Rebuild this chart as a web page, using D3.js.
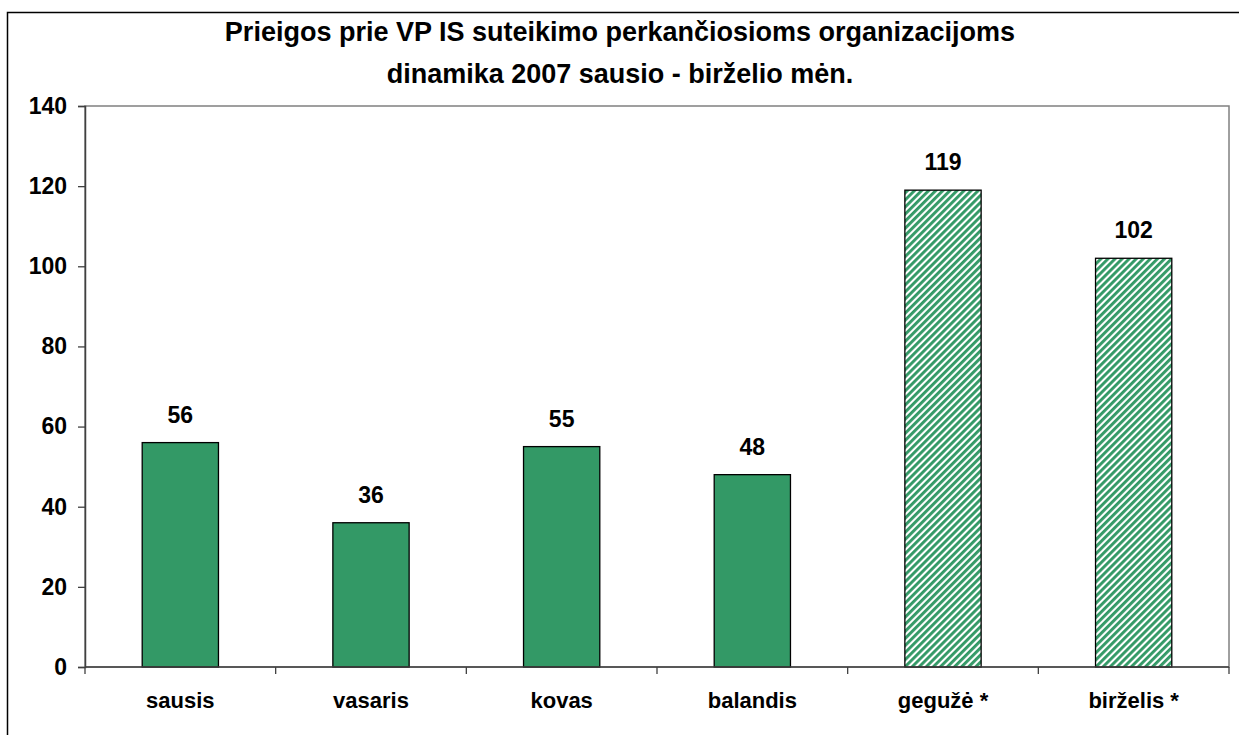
<!DOCTYPE html>
<html>
<head>
<meta charset="utf-8">
<script src="https://cdn.jsdelivr.net/npm/d3@7"></script>
<style>
  html, body { margin: 0; padding: 0; background: #fff; }
  svg { display: block; font-family: "Liberation Sans", Arial, sans-serif; }
</style>
</head>
<body>
<div id="chart"></div>
<script>
var months = ['sausis', 'vasaris', 'kovas', 'balandis', 'gegužė *', 'birželis *'];
var values = [56, 36, 55, 48, 119, 102];
var hatched = [false, false, false, false, true, true];
var yTicks = [0, 20, 40, 60, 80, 100, 120, 140];
var titleLines = ['Prieigos prie VP IS suteikimo perkančiosioms organizacijoms', 'dinamika 2007 sausio - birželio mėn.'];

(function () {
  var W = 1239, H = 735;
  var plot = { left: 85, right: 1229, top: 106, bottom: 667 };
  var green = '#339966';

  var svg = d3.select('#chart').append('svg').attr('width', W).attr('height', H);

  var defs = svg.append('defs');
  var pat = defs.append('pattern')
    .attr('id', 'hatch')
    .attr('patternUnits', 'userSpaceOnUse')
    .attr('width', 5).attr('height', 5)
    .attr('patternTransform', 'rotate(45)');
  pat.append('rect').attr('width', 5).attr('height', 5).attr('fill', '#fff');
  pat.append('rect').attr('width', 2.9).attr('height', 5).attr('fill', green);

  // outer chart frame
  svg.append('rect')
    .attr('x', 7.5).attr('y', 12.5)
    .attr('width', W + 20).attr('height', H + 20)
    .attr('fill', '#fff').attr('stroke', '#000').attr('stroke-width', 1.5);

  svg.append('text')
    .attr('text-anchor', 'middle')
    .attr('font-weight', 'bold').style('font-size', '27px')
    .selectAll('tspan').data(titleLines).enter().append('tspan')
    .attr('x', 620)
    .attr('y', function (d, i) { return 41 + i * 42; })
    .text(function (d) { return d; });

  var x = d3.scaleBand().domain(months).range([plot.left, plot.right]).paddingInner(0.6).paddingOuter(0.3);
  var xb = d3.scaleBand().domain(months).range([plot.left, plot.right]);
  var y = d3.scaleLinear().domain([0, 140]).range([plot.bottom, plot.top]);

  // plot area border
  svg.append('rect')
    .attr('x', plot.left).attr('y', plot.top)
    .attr('width', plot.right - plot.left).attr('height', plot.bottom - plot.top)
    .attr('fill', 'none').attr('stroke', '#808080').attr('stroke-width', 1.5);

  svg.selectAll('.bar').data(values).enter().append('rect')
    .attr('class', 'bar')
    .attr('x', function (d, i) { return x(months[i]); })
    .attr('y', function (d) { return y(d); })
    .attr('width', x.bandwidth())
    .attr('height', function (d) { return y(0) - y(d); })
    .attr('fill', function (d, i) { return hatched[i] ? 'url(#hatch)' : green; })
    .attr('stroke', '#000').attr('stroke-width', 1.3);

  svg.selectAll('.lbl').data(values).enter().append('text')
    .attr('class', 'lbl')
    .attr('x', function (d, i) { return x(months[i]) + x.bandwidth() / 2; })
    .attr('y', function (d) { return y(d) - 20; })
    .attr('text-anchor', 'middle')
    .attr('font-weight', 'bold').style('font-size', '23px')
    .text(function (d) { return d; });

  var yAxis = svg.append('g')
    .attr('transform', 'translate(' + plot.left + ',0)')
    .call(d3.axisLeft(y).tickValues(yTicks).tickSize(7).tickPadding(11));
  yAxis.select('.domain').attr('stroke', '#404040').attr('stroke-width', 1.5);
  yAxis.selectAll('.tick line').attr('stroke', '#404040').attr('stroke-width', 1.3);
  yAxis.selectAll('text')
    .attr('fill', '#000').attr('font-weight', 'bold')
    .style('font-size', '23px').style('font-family', '"Liberation Sans", Arial, sans-serif');

  var xAxis = svg.append('g').attr('transform', 'translate(0,' + plot.bottom + ')');
  xAxis.append('line')
    .attr('x1', plot.left).attr('x2', plot.right)
    .attr('stroke', '#404040').attr('stroke-width', 1.5);
  xAxis.selectAll('.xt').data(months.concat(['end'])).enter().append('line')
    .attr('class', 'xt')
    .attr('x1', function (d, i) { return i < months.length ? xb(d) : plot.right; })
    .attr('x2', function (d, i) { return i < months.length ? xb(d) : plot.right; })
    .attr('y1', 0).attr('y2', 7)
    .attr('stroke', '#404040').attr('stroke-width', 1.3);
  xAxis.selectAll('.xl').data(months).enter().append('text')
    .attr('class', 'xl')
    .attr('x', function (d) { return xb(d) + xb.bandwidth() / 2; })
    .attr('y', 41)
    .attr('text-anchor', 'middle')
    .attr('font-weight', 'bold').style('font-size', '22px')
    .text(function (d) { return d; });
})();
</script>
</body>
</html>
